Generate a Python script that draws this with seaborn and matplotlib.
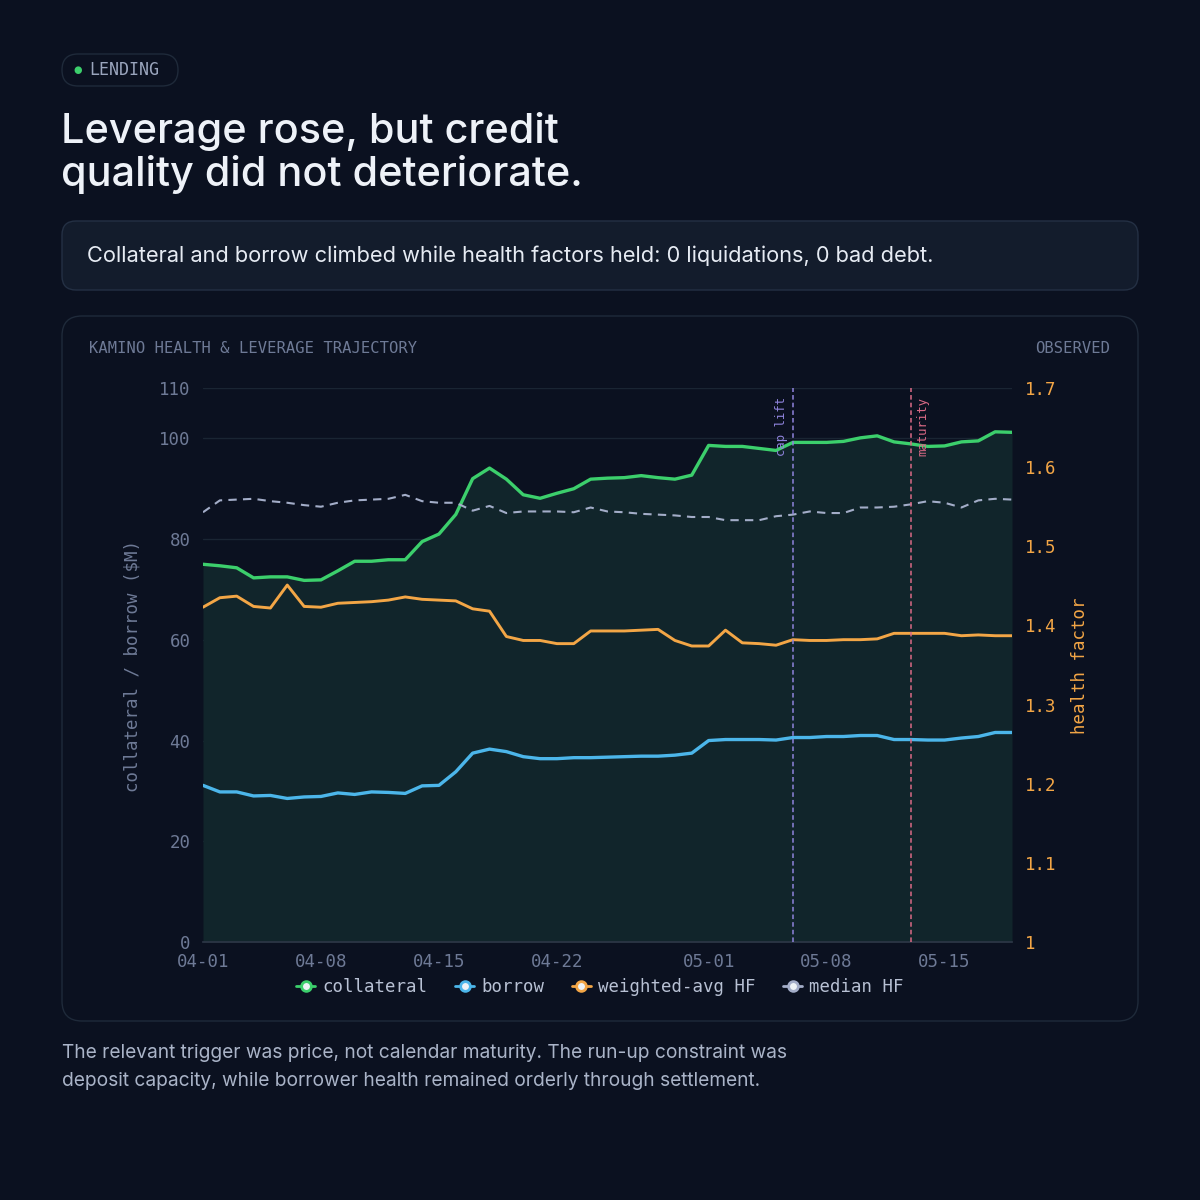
import pandas as pd
import seaborn as sns
import matplotlib.pyplot as plt
import matplotlib.dates as mdates
from matplotlib.patches import FancyBboxPatch
from matplotlib.lines import Line2D

# Data setup (daily, 04-01 .. 05-19)
dates = pd.date_range("2025-04-01", "2025-05-19", freq="D")
collateral = [
    75.0, 74.7, 74.3, 72.3, 72.5, 72.5, 71.8, 71.9, 73.7, 75.6,
    75.6, 75.9, 75.9, 79.5, 81.0, 84.9, 92.0, 94.1, 91.9, 88.8,
    88.1, 89.1, 90.0, 91.9, 92.1, 92.2, 92.6, 92.2, 91.9, 92.7,
    98.6, 98.4, 98.4, 98.0, 97.6, 99.2, 99.2, 99.2, 99.4, 100.1,
    100.5, 99.3, 98.9, 98.4, 98.5, 99.3, 99.5, 101.3, 101.2,
]
borrow = [
    31.1, 29.8, 29.8, 29.0, 29.1, 28.5, 28.8, 28.9, 29.6, 29.3,
    29.8, 29.7, 29.5, 31.0, 31.1, 33.8, 37.5, 38.3, 37.8, 36.8,
    36.4, 36.4, 36.6, 36.6, 36.7, 36.8, 36.9, 36.9, 37.1, 37.5,
    40.0, 40.2, 40.2, 40.2, 40.1, 40.6, 40.6, 40.8, 40.8, 41.0,
    41.0, 40.2, 40.2, 40.1, 40.1, 40.5, 40.8, 41.6, 41.6,
]
weighted_hf = [
    1.423, 1.435, 1.437, 1.424, 1.422, 1.451, 1.424, 1.423, 1.428, 1.429,
    1.430, 1.432, 1.436, 1.433, 1.432, 1.431, 1.421, 1.418, 1.386, 1.381,
    1.381, 1.377, 1.377, 1.393, 1.393, 1.393, 1.394, 1.395, 1.381, 1.374,
    1.374, 1.394, 1.378, 1.377, 1.375, 1.382, 1.381, 1.381, 1.382, 1.382,
    1.383, 1.390, 1.390, 1.390, 1.390, 1.387, 1.388, 1.387, 1.387,
]
median_hf = [
    1.543, 1.558, 1.559, 1.560, 1.557, 1.555, 1.552, 1.550, 1.555, 1.558,
    1.559, 1.560, 1.565, 1.557, 1.555, 1.555, 1.545, 1.551, 1.542, 1.544,
    1.544, 1.544, 1.543, 1.549, 1.544, 1.543, 1.541, 1.540, 1.539, 1.537,
    1.537, 1.533, 1.533, 1.533, 1.538, 1.540, 1.544, 1.542, 1.542, 1.549,
    1.549, 1.550, 1.553, 1.557, 1.555, 1.549, 1.558, 1.560, 1.559,
]
events = {"cap lift": "2025-05-06", "maturity": "2025-05-13"}
x_ticks = ["2025-04-01", "2025-04-08", "2025-04-15", "2025-04-22",
           "2025-05-01", "2025-05-08", "2025-05-15"]

df = pd.DataFrame({
    "date": dates,
    "collateral": collateral,
    "borrow": borrow,
    "weighted-avg HF": weighted_hf,
    "median HF": median_hf,
})

# Palette
BG = "#0b1120"
CARD_EDGE = "#1f2a3a"
BOX_BG = "#131c2c"
GRID = "#1a2533"
MUTED = "#6e7a96"
GREEN = "#3ccf6c"
BLUE = "#4cb6ea"
ORANGE = "#f3a646"
MEDIAN = "#a3adc8"
PURPLE = "#8f83dc"
PINK = "#db6a86"
MONO = "DejaVu Sans Mono"

sns.set_theme(style="dark")
plt.rcParams["font.family"] = ["Inter", "DejaVu Sans"]

fig = plt.figure(figsize=(12, 12), dpi=100, facecolor=BG)

W = H = 1200.0


def fx(px):
    return px / W


def fy(py):
    return 1 - py / H


def box(x0, y0, x1, y1, r, face, edge):
    p = FancyBboxPatch((fx(x0), fy(y1)), fx(x1) - fx(x0), fy(y0) - fy(y1),
                       boxstyle=f"round,pad=0,rounding_size={r / W}",
                       transform=fig.transFigure, facecolor=face,
                       edgecolor=edge, linewidth=1.0, zorder=-5)
    fig.patches.append(p)


# Badge
box(62, 54, 178, 86, 16, BG, CARD_EDGE)
fig.text(fx(78), fy(70), "●", color=GREEN, fontsize=7, ha="center", va="center",
         family=["DejaVu Sans"])
fig.text(fx(89), fy(70), "LENDING", color="#9aa5bd", fontsize=12,
         family=MONO, ha="left", va="center")

# Title
fig.text(fx(61), fy(112), "Leverage rose, but credit\nquality did not deteriorate.",
         color="#eef2f8", fontsize=29.8, fontweight="medium", ha="left", va="top",
         linespacing=1.13)

# Summary box
box(62, 221, 1138, 290, 14, BOX_BG, "#243044")
fig.text(fx(87), fy(256),
         "Collateral and borrow climbed while health factors held: 0 liquidations, 0 bad debt.",
         color="#e6ebf3", fontsize=15.7, ha="left", va="center")

# Chart card
box(62, 316, 1138, 1021, 20, BG, CARD_EDGE)
fig.text(fx(89), fy(349), "KAMINO HEALTH & LEVERAGE TRAJECTORY", color=MUTED,
         fontsize=11.2, family=MONO, ha="left", va="center")
fig.text(fx(1110), fy(349), "OBSERVED", color=MUTED, fontsize=11.2, family=MONO,
         ha="right", va="center")

# Axes
ax = fig.add_axes([fx(203), fy(942), fx(1012) - fx(203), fy(388) - fy(942)])
ax.set_facecolor(BG)
ax2 = ax.twinx()

ax.fill_between(df["date"], 0, df["collateral"], color="#11252b", lw=0, zorder=1)
sns.lineplot(data=df, x="date", y="collateral", color=GREEN, lw=2.4, ax=ax, zorder=3)
sns.lineplot(data=df, x="date", y="borrow", color=BLUE, lw=2.4, ax=ax, zorder=3)
sns.lineplot(data=df, x="date", y="weighted-avg HF", color=ORANGE, lw=2.1, ax=ax2, zorder=3)
sns.lineplot(data=df, x="date", y="median HF", color=MEDIAN, lw=1.5, ax=ax2,
             linestyle=(0, (4, 3)), zorder=3)

ax.set_ylim(0, 110)
ax.set_yticks([0, 20, 40, 60, 80, 100, 110])
ax2.set_ylim(1.0, 1.7)
ax2.set_yticks([1.0, 1.1, 1.2, 1.3, 1.4, 1.5, 1.6, 1.7])
ax2.set_yticklabels(["1", "1.1", "1.2", "1.3", "1.4", "1.5", "1.6", "1.7"])
ax.set_xlim(dates[0], dates[-1])
ax.set_xticks(pd.to_datetime(x_ticks))
ax.xaxis.set_major_formatter(mdates.DateFormatter("%m-%d"))

ax.grid(True, axis="y", color=GRID, lw=1.0)
ax.grid(False, axis="x")
ax2.grid(False)
for a in (ax, ax2):
    for s in a.spines.values():
        s.set_visible(False)
    a.set_xlabel("")
    a.set_ylabel("")
ax.spines["bottom"].set_visible(True)
ax.spines["bottom"].set_color("#2c3646")
ax.tick_params(axis="y", length=0, labelsize=12.5, labelcolor=MUTED, pad=9)
ax.tick_params(axis="x", length=0, labelsize=12.5, labelcolor=MUTED, pad=8)
ax2.tick_params(axis="y", length=0, labelsize=12.5, labelcolor=ORANGE, pad=9)
for lbl in ax.get_xticklabels() + ax.get_yticklabels() + ax2.get_yticklabels():
    lbl.set_family(MONO)

# Event markers
for (name, day), col in zip(events.items(), [PURPLE, PINK]):
    d = pd.Timestamp(day)
    ax2.axvline(d, color=col, lw=1.1, linestyle=(0, (3, 2)), zorder=4)
    off = -0.3 if name == "cap lift" else 0.3
    ax2.text(d + pd.Timedelta(days=off), 1.689, name, rotation=90, color=col,
             fontsize=8.8, family=MONO, ha="right" if off < 0 else "left",
             va="top", zorder=5)

# Axis titles
fig.text(fx(133), fy(666), "collateral / borrow ($M)", rotation=90, color=MUTED,
         fontsize=12.5, family=MONO, ha="center", va="center")
fig.text(fx(1080), fy(666), "health factor", rotation=90, color=ORANGE,
         fontsize=12.5, family=MONO, ha="center", va="center")

# Legend
handles = [
    Line2D([], [], color=c, lw=2, marker="o", markersize=7,
           markerfacecolor="#eef3f6", markeredgecolor=c, markeredgewidth=2)
    for c in (GREEN, BLUE, ORANGE, MEDIAN)
]
leg = fig.legend(handles, ["collateral", "borrow", "weighted-avg HF", "median HF"],
                 loc="center", bbox_to_anchor=(0.5, fy(987)), ncol=4, frameon=False,
                 handlelength=1.1, handletextpad=0.4, columnspacing=1.6,
                 prop={"family": MONO, "size": 12.5})
for t in leg.get_texts():
    t.set_color("#b8c1d4")

# Footer
fig.text(fx(62), fy(1067),
         "The relevant trigger was price, not calendar maturity. The run-up constraint was\n"
         "deposit capacity, while borrower health remained orderly through settlement.",
         color="#aab4c8", fontsize=13.8, ha="left", va="center", linespacing=1.7)

plt.savefig("out.png", dpi=100, facecolor=BG)
